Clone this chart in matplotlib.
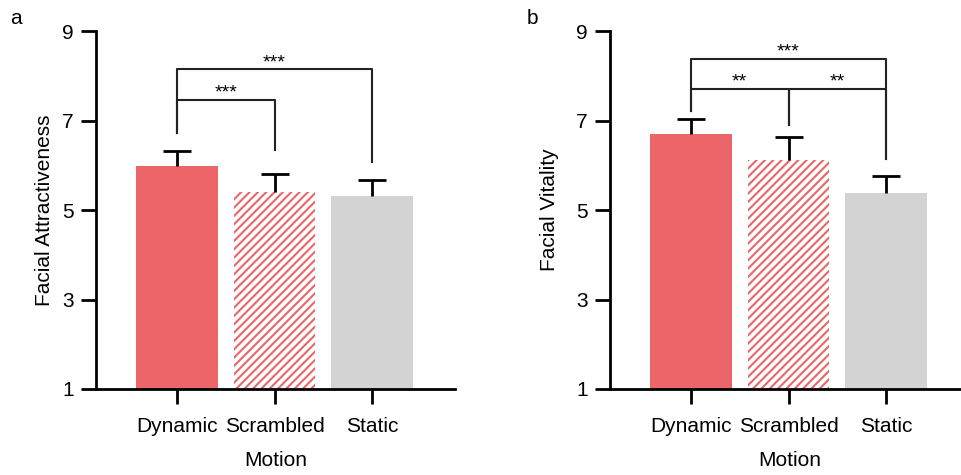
import matplotlib.pyplot as plt

plt.rcParams['font.family'] = ['Liberation Sans', 'DejaVu Sans']
plt.rcParams['hatch.linewidth'] = 1.5

conditions = ['Dynamic', 'Scrambled', 'Static']

attract_mean = [5.98, 5.40, 5.31]
attract_err = [0.33, 0.40, 0.35]

vitality_mean = [6.70, 6.12, 5.38]
vitality_err = [0.34, 0.51, 0.39]

red = '#ec6569'
gray = '#d3d3d3'

# (left bar, right bar, bracket height, leg bottoms, label)
attract_brackets = [(0, 1, 7.46, (6.72, 6.33), '***'),
                    (0, 2, 8.14, (6.72, 6.08), '***')]
vitality_brackets = [(0, 1, 7.71, (7.22, 6.91), '**'),
                     (1, 2, 7.71, (6.91, 6.13), '**'),
                     (0, 2, 8.38, (7.22, 6.13), '***')]

fig = plt.figure(figsize=(9.62, 4.75), dpi=100)
ax1 = fig.add_axes([96 / 962, 86 / 475, 359 / 962, 358 / 475])
ax2 = fig.add_axes([610 / 962, 86 / 475, 359 / 962, 358 / 475])


def draw_panel(ax, means, errs, brackets, ylabel, label_x):
    x = range(len(conditions))
    ax.bar(0, means[0], width=0.84, color=red, linewidth=0)
    ax.bar(1, means[1], width=0.84, color='white', edgecolor=red, hatch='////', linewidth=0)
    ax.bar(2, means[2], width=0.84, color=gray, linewidth=0)
    _, caps, _ = ax.errorbar(x, means, yerr=[[0] * 3, errs], fmt='none', ecolor='black',
                             elinewidth=2, capsize=10, capthick=2)
    caps[0].set_visible(False)  # only the upper cap

    for a, b, h, (la, lb), txt in brackets:
        ax.plot([a, a, b, b], [la, h, h, lb], color='#222222', lw=1.5, clip_on=False)
        ax.text((a + b) / 2, h + 0.05, txt, ha='center', va='baseline', fontsize=14)

    ax.set_xlim(-0.83, 2.85)
    ax.set_ylim(1, 9)
    ax.set_yticks([1, 3, 5, 7, 9])
    ax.set_xticks(list(x))
    ax.set_xticklabels(conditions)
    ax.spines['top'].set_visible(False)
    ax.spines['right'].set_visible(False)
    ax.spines['left'].set_linewidth(2)
    ax.spines['bottom'].set_linewidth(2)
    ax.tick_params(axis='both', length=11, width=2, labelsize=15)
    ax.tick_params(axis='x', pad=9)
    ax.tick_params(axis='y', pad=5)
    ax.set_xlabel('Motion', fontsize=15, labelpad=11)
    ax.set_ylabel(ylabel, fontsize=15)
    ax.yaxis.set_label_coords(label_x, 0.5)


draw_panel(ax1, attract_mean, attract_err, attract_brackets, 'Facial Attractiveness', -0.117)
draw_panel(ax2, vitality_mean, vitality_err, vitality_brackets, 'Facial Vitality', -0.143)

fig.text(16 / 962, 1 - 18 / 475, 'a', fontsize=15, ha='center', va='center')
fig.text(532 / 962, 1 - 18 / 475, 'b', fontsize=15, ha='center', va='center')

plt.savefig('out.png', dpi=100)
